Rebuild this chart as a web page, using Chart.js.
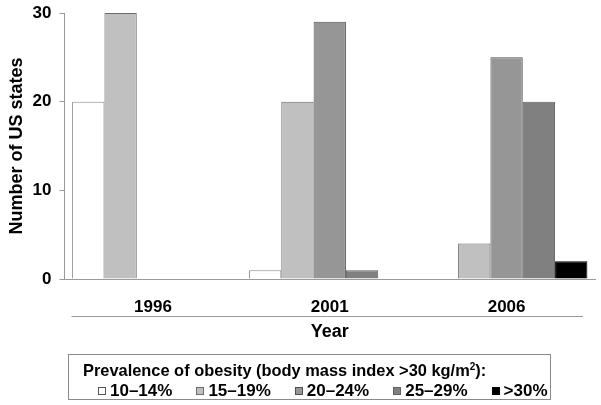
<!DOCTYPE html>
<html>
<head>
<meta charset="utf-8">
<script src="https://cdn.jsdelivr.net/npm/chart.js@4/dist/chart.umd.min.js"></script>
<style>
	html, body { margin: 0; padding: 0; background: #fff; }
	#wrap { position: relative; width: 601px; height: 405px; }
	#legend {
		position: absolute; left: 68px; top: 354px; width: 483px; height: 46px;
		box-sizing: border-box; border: 1px solid #8a8a8a; background: #fff;
		font-family: "Liberation Sans", Arial, sans-serif; font-weight: bold; color: #000;
	}
	#legend .ttl { position: absolute; left: 14px; top: 6px; font-size: 16.4px; line-height: 18px; white-space: nowrap; }
	#legend .ttl sup { font-size: 10px; line-height: 0; vertical-align: 6px; }
	#legend .row { position: absolute; left: 29px; top: 27px; display: flex; white-space: nowrap; font-size: 17px; line-height: 18px; }
	#legend .item { display: flex; align-items: center; margin-right: 24px; }
	#legend .sw { width: 8px; height: 8px; box-sizing: border-box; border: 1px solid #555; margin-right: 4px; }
</style>
</head>
<body>
<div id="wrap">
	<canvas id="chart" width="601" height="405"></canvas>
	<div id="legend"></div>
</div>
<script>
(function () {
	'use strict';

	var years = [ '1996', '2001', '2006' ];
	var groups = [ '10–14%', '15–19%', '20–24%', '25–29%', '>30%' ];
	var p10to14 = [ 20, 1, 0 ];
	var p15to19 = [ 30, 20, 4 ];
	var p20to24 = [ 0, 29, 25 ];
	var p25to29 = [ 0, 1, 20 ];
	var p30plus = [ 0, 0, 2 ];
	var yTicks = [ 0, 10, 20, 30 ];

	var fills = [ '#ffffff', '#c0c0c0', '#969696', '#808080', '#000000' ];
	var edges = [ '#8a8a8a', '#6a6a6a', '#505050', '#606060', '#000000' ];
	var series = [ p10to14, p15to19, p20to24, p25to29, p30plus ];

	var font = 'Liberation Sans, Arial, sans-serif';

	// thin rule between the year labels and the axis title
	var yearRule = {
		id: 'yearRule',
		afterDraw: function ( chart ) {
			var x = chart.scales.x;
			var ctx = chart.ctx;
			var y = chart.chartArea.bottom + 37.5;
			ctx.save();
			ctx.strokeStyle = '#9a9a9a';
			ctx.lineWidth = 1;
			ctx.beginPath();
			ctx.moveTo( x.left + 7, y );
			ctx.lineTo( x.right - 12, y );
			ctx.stroke();
			ctx.restore();
		}
	};

	var datasets = series.map( function ( data, i ) {
		return {
			label: groups[ i ],
			data: data,
			backgroundColor: fills[ i ],
			borderColor: edges[ i ],
			borderWidth: 1,
			categoryPercentage: 0.914,
			barPercentage: 1
		};
	} );

	new Chart( document.getElementById( 'chart' ), {
		type: 'bar',
		data: { labels: years, datasets: datasets },
		plugins: [ yearRule ],
		options: {
			responsive: false,
			animation: false,
			layout: { padding: { left: 0, right: 6, top: 13, bottom: 62 } },
			plugins: { legend: { display: false }, tooltip: { enabled: false } },
			scales: {
				x: {
					afterFit: function ( axis ) { axis.height = 64; },
					grid: { display: true, drawOnChartArea: false, drawTicks: false },
					border: { display: true, color: '#9a9a9a', width: 1 },
					ticks: { color: '#000', padding: 18, font: { family: font, size: 17, weight: 'bold' } },
					title: {
						display: true, text: 'Year', color: '#000', padding: { top: 0, bottom: 0 },
						font: { family: font, size: 18, weight: 'bold' }
					}
				},
				y: {
					min: 0,
					max: 30,
					afterBuildTicks: function ( axis ) {
						axis.ticks = yTicks.map( function ( v ) { return { value: v }; } );
					},
					afterFit: function ( axis ) { axis.paddingTop = 0; },
					grid: { display: true, drawOnChartArea: false, drawTicks: true, tickLength: 5, color: '#9a9a9a' },
					border: { display: true, color: '#9a9a9a', width: 1 },
					ticks: { color: '#000', padding: 8, font: { family: font, size: 17, weight: 'bold' } },
					title: {
						display: true, text: 'Number of US states', color: '#000', padding: { top: 6, bottom: -3 },
						font: { family: font, size: 18, weight: 'bold' }
					}
				}
			}
		}
	} );

	// legend box below the chart, built from the same arrays
	var legend = document.getElementById( 'legend' );
	var ttl = document.createElement( 'div' );
	ttl.className = 'ttl';
	ttl.innerHTML = 'Prevalence of obesity (body mass index &gt;30 kg/m<sup>2</sup>):';
	legend.appendChild( ttl );
	var row = document.createElement( 'div' );
	row.className = 'row';
	groups.forEach( function ( g, i ) {
		var item = document.createElement( 'div' );
		item.className = 'item';
		var sw = document.createElement( 'span' );
		sw.className = 'sw';
		sw.style.background = fills[ i ];
		sw.style.borderColor = i === 0 ? '#555' : edges[ i ];
		var tx = document.createElement( 'span' );
		tx.textContent = g;
		item.appendChild( sw );
		item.appendChild( tx );
		row.appendChild( item );
	} );
	legend.appendChild( row );
}() );
</script>
</body>
</html>
